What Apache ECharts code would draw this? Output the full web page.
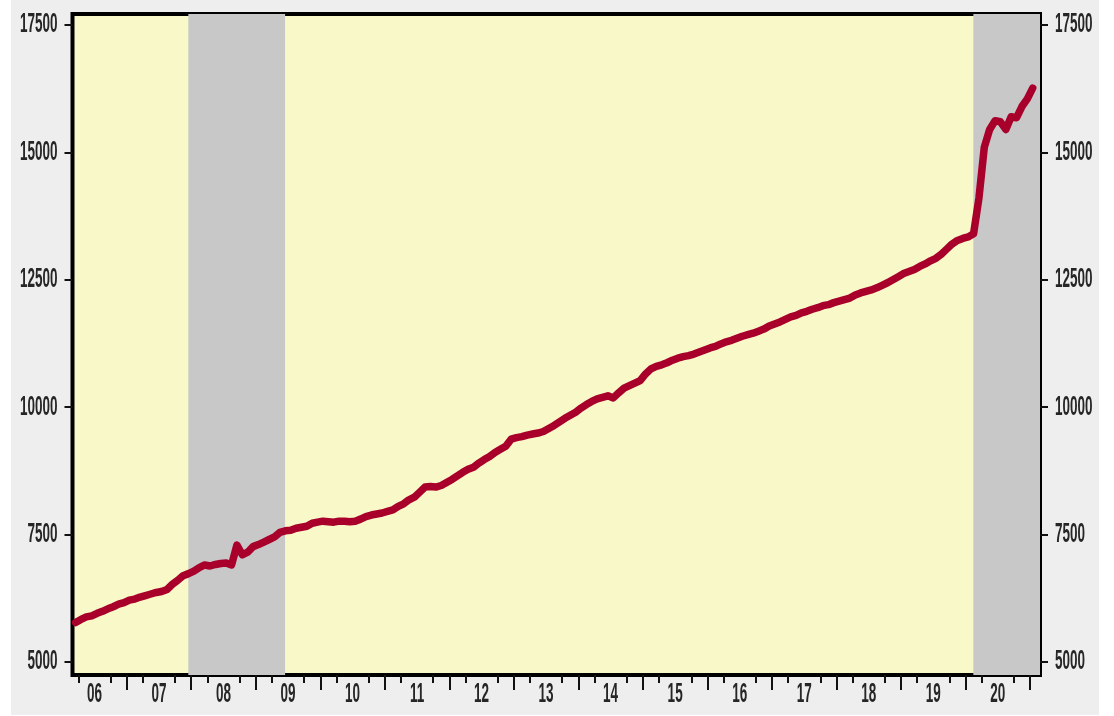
<!DOCTYPE html>
<html>
<head>
<meta charset="utf-8">
<script src="https://cdn.jsdelivr.net/npm/echarts@6/dist/echarts.min.js"></script>
<style>
  html, body { margin: 0; padding: 0; background: #ffffff; }
  #panel { position: absolute; left: 11px; top: 0; width: 1088px; height: 715px; background: #eeeeee; }
  #chart { position: absolute; left: 0; top: 0; width: 1114px; height: 716px; }
</style>
</head>
<body>
<div id="panel"></div>
<div id="chart"></div>
<script>
// ---- data (monthly) ----
const firstYear = 2006, firstMonth = 3;   // series starts March 2006
const values = [
  // 2006 (Mar-Dec)
  5770, 5830, 5880, 5900, 5950, 5990, 6040, 6080, 6130, 6160,
  // 2007
  6210, 6230, 6270, 6300, 6330, 6360, 6380, 6420, 6520, 6600, 6690, 6730,
  // 2008
  6780, 6850, 6900, 6880, 6910, 6930, 6940, 6900, 7290, 7100, 7150, 7260,
  // 2009
  7300, 7350, 7400, 7450, 7540, 7570, 7580, 7620, 7640, 7660, 7720, 7740,
  // 2010
  7760, 7750, 7740, 7760, 7760, 7750, 7760, 7800, 7850, 7880, 7900, 7920,
  // 2011
  7950, 7980, 8050, 8100, 8180, 8230, 8330, 8430, 8440, 8430, 8460, 8520,
  // 2012
  8580, 8650, 8720, 8780, 8820, 8900, 8970, 9030, 9110, 9170, 9230, 9370,
  // 2013
  9400, 9420, 9450, 9470, 9490, 9520, 9580, 9640, 9710, 9780, 9840, 9900,
  // 2014
  9980, 10050, 10110, 10160, 10190, 10220, 10180, 10280, 10370, 10420, 10470, 10520,
  // 2015
  10650, 10750, 10800, 10830, 10870, 10920, 10960, 10990, 11010, 11040, 11080, 11120,
  // 2016
  11160, 11190, 11240, 11280, 11310, 11350, 11390, 11420, 11450, 11490, 11530, 11590,
  // 2017
  11630, 11670, 11720, 11770, 11800, 11850, 11880, 11920, 11950, 11990, 12010, 12050,
  // 2018
  12080, 12110, 12140, 12200, 12240, 12270, 12300, 12340, 12390, 12440, 12500, 12560,
  // 2019
  12620, 12660, 12700, 12760, 12810, 12870, 12920, 13000, 13100, 13200, 13270, 13310,
  // 2020
  13340, 13400, 14100, 15100, 15450, 15620, 15600, 15450, 15700, 15680, 15900, 16050,
  // 2021 (Jan)
  16260
];
const recessions = [['2007-12-15', '2009-06-15'], ['2020-02-15', null]];
const yTicks = [5000, 7500, 10000, 12500, 15000, 17500];
const yTickLabels = ['5000', '7500', '10000', '12500', '15000', '17500'];
const yearLabels = ['06','07','08','09','10','11','12','13','14','15','16','17','18','19','20'];

// ---- helpers ----
function dateToYear(s) {
  const p = s.split('-').map(Number);
  return p[0] + (p[1] - 1 + (p[2] - 1) / 30.4) / 12;
}
const X_MIN = 2006.16, X_MAX = 2021.155;
const Y_MIN = 4740, Y_MAX = 17716;
const seriesData = values.map((v, i) => {
  const mIdx = firstMonth - 1 + i;
  const yr = firstYear + Math.floor(mIdx / 12);
  const mo = mIdx % 12;
  return [yr + (mo + 0.5) / 12, v];
});
const labelPos = yearLabels.map(l => 2000 + Number(l) + 0.5);
const majorTicks = [];
for (let y = 2007; y <= 2021; y++) majorTicks.push(y);
const minorTicks = [];
for (let y = 2006; y <= 2020; y++) { minorTicks.push(y + 0.25); minorTicks.push(y + 0.75); }
const recAreas = recessions.map(r => [
  { xAxis: dateToYear(r[0]) },
  { xAxis: r[1] ? dateToYear(r[1]) : X_MAX }
]);

const tickStyle = { color: '#111', width: 2 };

const chart = echarts.init(document.getElementById('chart'), null, { renderer: 'canvas' });
chart.setOption({
  animation: false,
  backgroundColor: 'transparent',
  grid: {
    left: 72.5, right: 74, top: 14, bottom: 41,
    outerBoundsMode: 'none', containLabel: false,
    show: true, backgroundColor: '#f9f8c9', borderColor: '#000000', borderWidth: 4
  },
  xAxis: [
    {
      type: 'value', min: X_MIN, max: X_MAX, position: 'bottom',
      axisLine: { show: false }, splitLine: { show: false },
      axisTick: { show: true, customValues: majorTicks, length: 15, lineStyle: tickStyle },
      axisLabel: { show: false }
    },
    {
      type: 'value', min: X_MIN, max: X_MAX, position: 'bottom', offset: 0,
      axisLine: { show: false }, splitLine: { show: false },
      axisTick: { show: true, customValues: minorTicks, length: 8, lineStyle: tickStyle },
      axisLabel: { show: false }
    }
  ],
  yAxis: [
    {
      type: 'value', min: Y_MIN, max: Y_MAX, position: 'left',
      axisLine: { show: false }, splitLine: { show: false },
      axisTick: { show: true, customValues: yTicks, length: 8, lineStyle: tickStyle },
      axisLabel: { show: false }
    },
    {
      type: 'value', min: Y_MIN, max: Y_MAX, position: 'right',
      axisLine: { show: false }, splitLine: { show: false },
      axisTick: { show: true, customValues: yTicks, length: 8, lineStyle: tickStyle },
      axisLabel: { show: false }
    }
  ],
  series: [{
    type: 'line',
    xAxisIndex: 0, yAxisIndex: 0,
    data: seriesData,
    showSymbol: false, symbol: 'none',
    lineStyle: { color: '#a8002b', width: 7.5, join: 'round', cap: 'round' },
    markArea: { silent: true, itemStyle: { color: '#c8c8c8' }, data: recAreas },
    z: 3
  }]
});

// Tick labels: condensed (horizontally squeezed) text, placed through the axes' scales
const FONT = "bold 27px 'Liberation Sans', Arial, sans-serif";
const SQUEEZE = 0.5;
const leftEdge = chart.convertToPixel({ xAxisIndex: 0 }, X_MIN);
const rightEdge = chart.convertToPixel({ xAxisIndex: 0 }, X_MAX);
const bottomEdge = chart.convertToPixel({ yAxisIndex: 0 }, Y_MIN);
const texts = [];
yTicks.forEach((v, i) => {
  const py = chart.convertToPixel({ yAxisIndex: 0 }, v);
  texts.push({ type: 'text', x: leftEdge - 15, y: py, scaleX: SQUEEZE, silent: true,
    style: { text: yTickLabels[i], font: FONT, fill: '#262626', align: 'right', verticalAlign: 'middle' } });
  texts.push({ type: 'text', x: rightEdge + 15, y: py, scaleX: SQUEEZE, silent: true,
    style: { text: yTickLabels[i], font: FONT, fill: '#262626', align: 'left', verticalAlign: 'middle' } });
});
yearLabels.forEach((l, i) => {
  const px = chart.convertToPixel({ xAxisIndex: 0 }, labelPos[i]);
  texts.push({ type: 'text', x: px, y: bottomEdge + 20, scaleX: SQUEEZE, silent: true,
    style: { text: l, font: FONT, fill: '#262626', align: 'center', verticalAlign: 'middle' } });
});
chart.setOption({ graphic: texts });
</script>
</body>
</html>
